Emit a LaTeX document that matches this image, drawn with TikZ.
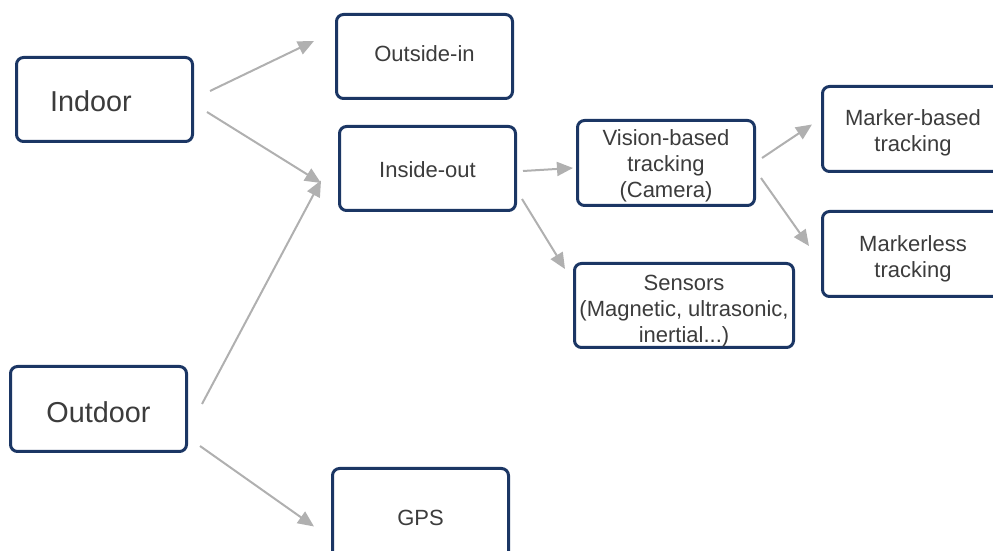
\documentclass[tikz,border=0pt]{standalone}
\usepackage{fontspec}
\setmainfont{Liberation Sans}
\usetikzlibrary{arrows.meta,calc}
\definecolor{boxblue}{HTML}{1B3664}
\definecolor{arrowgray}{HTML}{B0B0B0}
\definecolor{labelgray}{HTML}{3C3C3C}
\begin{document}
\begin{tikzpicture}[x=0.5pt,y=-0.5pt,
  box/.style={draw=boxblue, line width=1.5pt, rounded corners=3.5pt, fill=white,
    inner sep=0pt},
  txt/.style={text=labelgray, align=center, inner sep=0pt,
    font=\fontsize{11}{13}\selectfont},
  bigtxt/.style={txt, font=\fontsize{14.4}{17}\selectfont},
  link/.style={draw=arrowgray, line width=1pt,
    -{Triangle[length=8pt,width=7pt]}},
]
\useasboundingbox (0,0) rectangle (993,551);

% boxes, each with its caption set at the centre
\node[box,minimum width=88pt,minimum height=42pt,
  label={[bigtxt,xshift=-6.75pt,yshift=-0.8pt]center:Indoor}] (indoor) at (104.5,99.5) {};
\node[box,minimum width=88pt,minimum height=42.5pt,
  label={[bigtxt,yshift=-1.8pt]center:Outdoor}] (outdoor) at (98.5,409) {};
\node[box,minimum width=88pt,minimum height=42pt,
  label={[txt,yshift=1.3pt]center:Outside-in}] (outin) at (424.5,56.5) {};
\node[box,minimum width=88pt,minimum height=42pt,
  label={[txt,yshift=-0.7pt]center:Inside-out}] (inout) at (427.5,168.5) {};
\node[box,minimum width=88.5pt,minimum height=42.5pt,
  label={[txt,yshift=-1.3pt]center:Vision-based\\tracking\\(Camera)}] (vision) at (666,163) {};
\node[box,minimum width=109.5pt,minimum height=42pt,
  label={[txt,yshift=-2.8pt]center:Sensors\\(Magnetic, ultrasonic,\\inertial...)}] (sensors) at (684,305.5) {};
\node[box,minimum width=90.5pt,minimum height=42.5pt,
  label={[txt,yshift=-1.8pt]center:Marker-based\\tracking}] (marker) at (913,129) {};
\node[box,minimum width=90.5pt,minimum height=42.5pt,
  label={[txt,yshift=-2.6pt]center:Markerless\\tracking}] (markerless) at (913,254) {};
\node[box,minimum width=88pt,minimum height=49.5pt,
  label={[txt]center:GPS}] (gps) at (420.5,518) {};

% connectors
\draw[link] ($(indoor.east)+(16,-8.5)$) -- ($(outin.west)+(-21,-15.5)$);
\draw[link] ($(indoor.east)+(13,12.5)$) -- ($(inout.west)+(-17,14.5)$);
\draw[link] ($(outdoor.east)+(14,-5)$) -- ($(inout.west)+(-17,12)$);
\draw[link] ($(outdoor.east)+(12,37)$) -- ($(gps.west)+(-17,8.5)$);
\draw[link] ($(inout.east)+(6,2.5)$) -- ($(vision.west)+(-3,5)$);
\draw[link] ($(inout.east)+(5,30.5)$) -- ($(sensors.west)+(-8,-36.5)$);
\draw[link] ($(vision.east)+(6,-5)$) -- ($(marker.west)+(-9,-4.5)$);
\draw[link] ($(vision.east)+(5,15)$) -- ($(markerless.west)+(-12,-8)$);
\end{tikzpicture}
\end{document}
